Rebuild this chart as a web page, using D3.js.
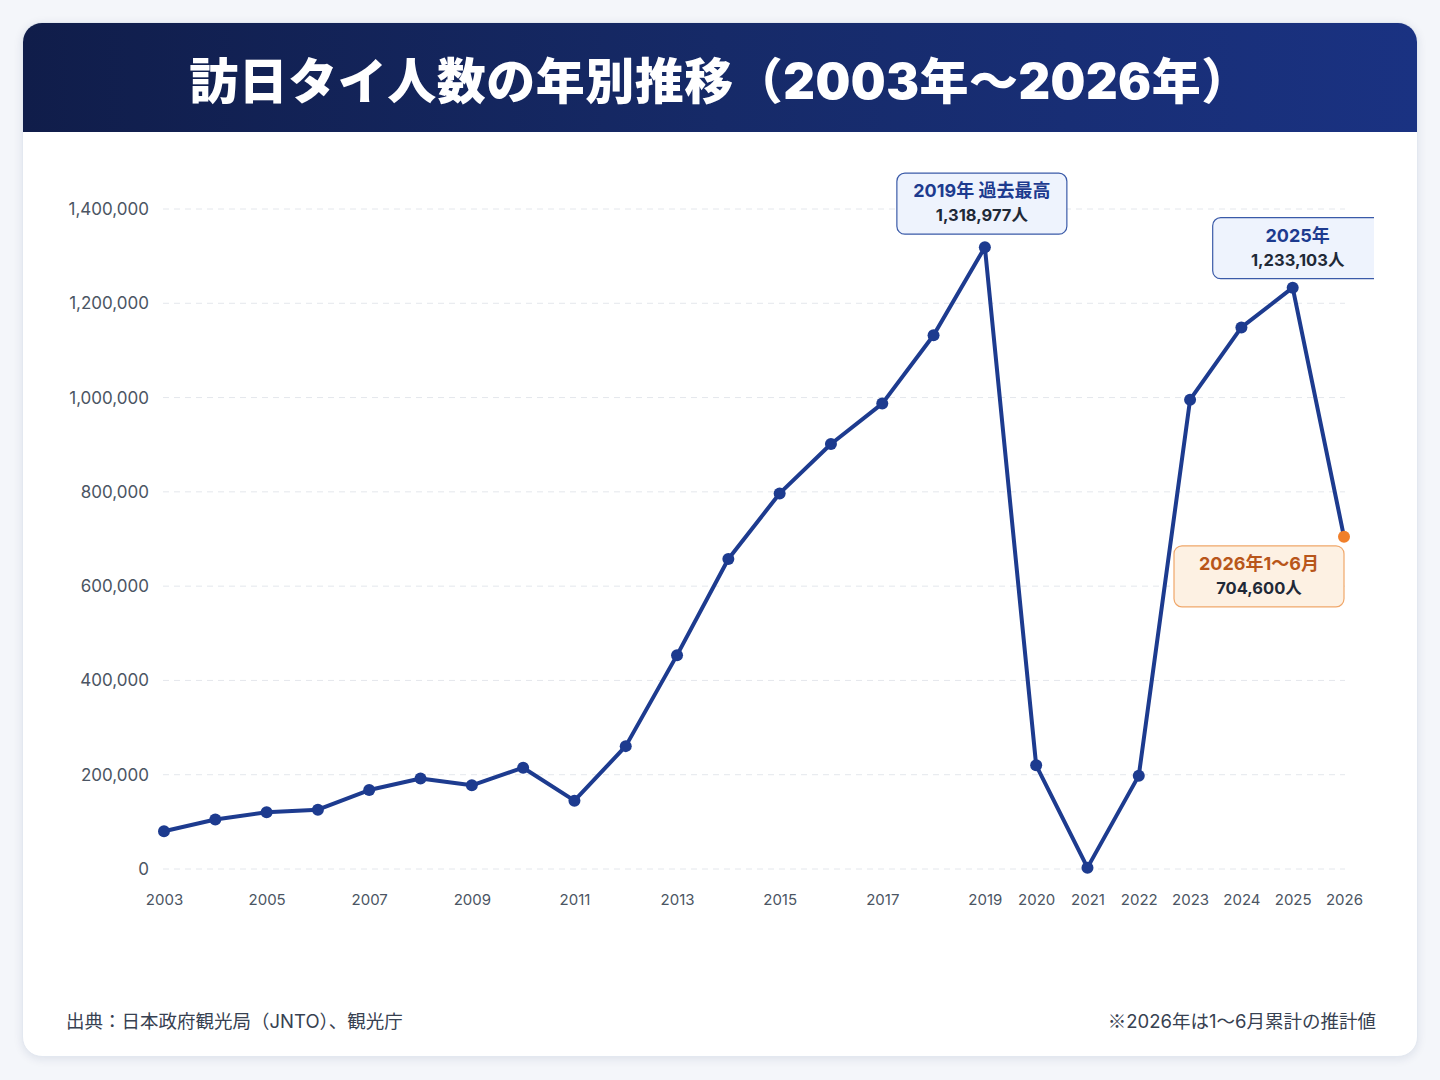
<!doctype html>
<html>
<head>
<meta charset="utf-8">
<script src="https://cdn.jsdelivr.net/npm/d3@7"></script>
<style>
	body { margin: 0; background: #f4f6fa; font-family: Inter, "Noto Sans CJK JP", sans-serif; }
	.card { position: absolute; left: 22px; top: 22px; width: 1396px; height: 1035px; background: #fff;
		border-radius: 20px; box-shadow: 0 2px 10px rgba(20,40,90,0.10); overflow: hidden; border: 1px solid #e3e8f0; box-sizing: border-box; }
	.head { height: 109px; background: linear-gradient(90deg, #101d4a 0%, #162a68 50%, #1a3282 100%);
		display: flex; align-items: center; justify-content: center; }
	.head h1 { margin: 0; color: #fff; font-size: 49px; font-weight: 900; letter-spacing: 0.5px;
		font-family: Inter, "Noto Sans CJK JP", sans-serif; }
	.grid line { stroke: #e4e7ec; stroke-dasharray: 6 5; }
	.tick text { fill: #4b5563; }
</style>
</head>
<body>
<div class="card">
	<div class="head"><h1>訪日タイ人数の年別推移（2003年〜2026年）</h1></div>
	<svg id="chart" width="1396" height="926"></svg>
</div>
<script>
	// 年別訪日タイ人数（2026年は1〜6月）
	var years = [2003,2004,2005,2006,2007,2008,2009,2010,2011,2012,2013,2014,2015,2016,2017,2018,2019,2020,2021,2022,2023,2024,2025,2026];
	var visitors = [80022,104864,120238,125704,167481,191881,177541,214881,144969,260640,453642,657570,796731,901525,987211,1132160,1318977,219830,2900,198037,995498,1148851,1233103,704600];
	var xTicks = [2003,2005,2007,2009,2011,2013,2015,2017,2019,2020,2021,2022,2023,2024,2025,2026];
	var yTicks = [0,200000,400000,600000,800000,1000000,1200000,1400000];

	var data = years.map(function(y,i){ return {year: y, value: visitors[i]}; });

	var svg = d3.select("#chart");
	var x = d3.scaleLinear().domain([2003, 2026]).range([141, 1321]);
	var y = d3.scaleLinear().domain([0, 1400000]).range([737, 77]);
	var fmt = d3.format(",");

	svg.append("defs").append("clipPath").attr("id", "plotclip")
		.append("rect").attr("x", 0).attr("y", 0).attr("width", 1351).attr("height", 926);

	// grid
	svg.append("g").attr("class", "grid")
		.selectAll("line").data(yTicks).enter().append("line")
		.attr("x1", 140).attr("x2", 1322)
		.attr("y1", d => y(d)).attr("y2", d => y(d));

	// y axis
	var ya = svg.append("g").attr("transform", "translate(126,0)")
		.call(d3.axisLeft(y).tickValues(yTicks).tickFormat(fmt).tickSize(0).tickPadding(0));
	ya.select(".domain").remove();
	ya.selectAll("text").style("font-size", "17px").style("font-family", "Inter, sans-serif");

	// x axis
	var xa = svg.append("g").attr("transform", "translate(0,762)")
		.call(d3.axisBottom(x).tickValues(xTicks).tickFormat(d3.format("d")).tickSize(0).tickPadding(0));
	xa.select(".domain").remove();
	xa.selectAll("text").style("font-size", "15px").style("font-family", "Inter, sans-serif");

	// line
	var line = d3.line().x(d => x(d.year)).y(d => y(d.value));
	svg.append("path").datum(data)
		.attr("fill", "none").attr("stroke", "#1d3b8f").attr("stroke-width", 4)
		.attr("stroke-linejoin", "round").attr("d", line);

	svg.append("g").selectAll("circle").data(data).enter().append("circle")
		.attr("cx", d => x(d.year)).attr("cy", d => y(d.value)).attr("r", 6)
		.attr("fill", d => d.year == 2026 ? "#f07f2a" : "#1d3b8f");

	// annotations
	function note(year, dx, dy, title, sub, fill, stroke, tcol) {
		var d = data.find(e => e.year == year);
		var cx = x(d.year) + dx, top = y(d.value) + dy;
		var g = svg.append("g").attr("clip-path", "url(#plotclip)");
		g.append("rect").attr("x", cx - 85).attr("y", top).attr("width", 170).attr("height", 61)
			.attr("rx", 8).attr("fill", fill).attr("stroke", stroke).attr("stroke-width", 1.2);
		g.append("text").attr("x", cx).attr("y", top + 24).attr("text-anchor", "middle")
			.style("font-size", "18px").style("font-weight", 700).attr("fill", tcol).text(title);
		g.append("text").attr("x", cx).attr("y", top + 48).attr("text-anchor", "middle")
			.style("font-size", "16.5px").style("font-weight", 700).attr("fill", "#1f2937").text(sub);
	}
	note(2019, -3, -74, "2019年 過去最高", fmt(1318977) + "人", "#eef3fd", "#3a5aa8", "#1d3b8f");
	note(2025, 5, -70, "2025年", fmt(1233103) + "人", "#eef3fd", "#3a5aa8", "#1d3b8f");
	note(2026, -85, 9, "2026年1〜6月", fmt(704600) + "人", "#fdf1e3", "#f0a76a", "#b8561a");

	// footer
	svg.append("text").attr("x", 43).attr("y", 896).attr("fill", "#374151")
		.style("font-size", "18.5px").text("出典：日本政府観光局（JNTO）、観光庁");
	var note2 = svg.append("text").attr("x", 1353).attr("y", 896).attr("text-anchor", "end").attr("fill", "#374151")
		.style("font-size", "18.5px");
	note2.append("tspan").style("font-family", "'Noto Sans CJK JP'").text("※");
	note2.append("tspan").text("2026年は1〜6月累計の推計値");
</script>
</body>
</html>
